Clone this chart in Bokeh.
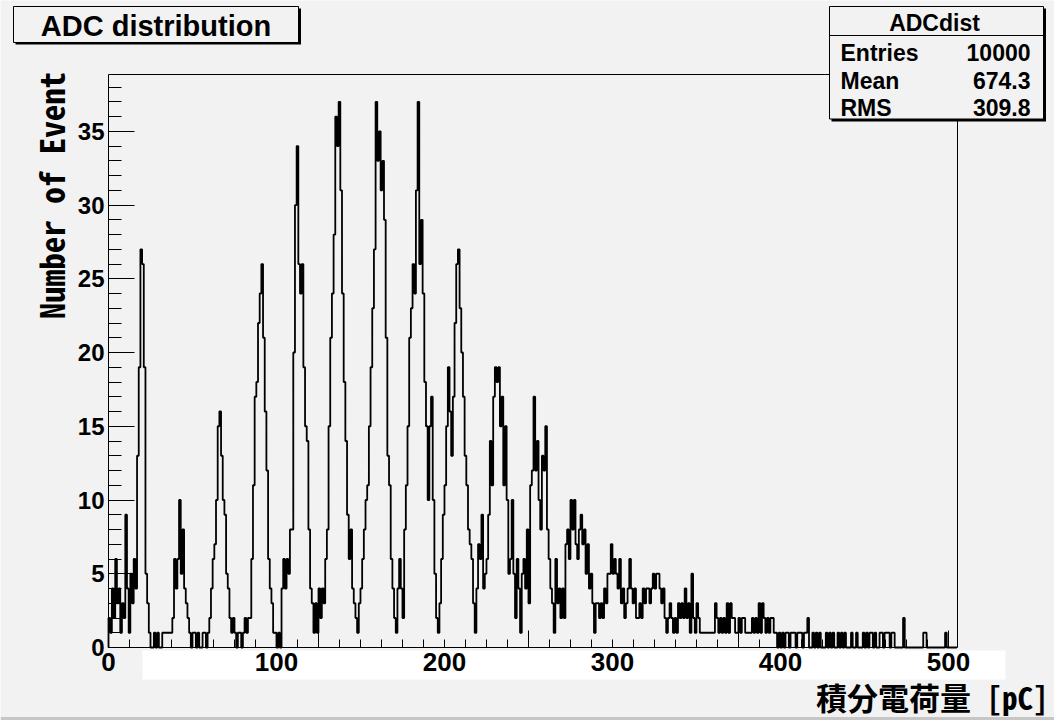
import math
from bokeh.plotting import figure
from bokeh.models import LinearAxis, FixedTicker, Range1d, BoxAnnotation, Label
from bokeh.embed import file_html
from bokeh.resources import INLINE

# ---------------- data ----------------
# Histogram counts per 1 pC bin, bins start at 0 pC
BIN_WIDTH_PC = 1.0
COUNTS = [
    2, 1, 4, 2, 6, 3, 4, 1, 3, 2,        # 0
    9, 4, 1, 5, 3, 6, 4, 13, 19, 27,     # 10
    26, 19, 5, 3, 1, 0, 0, 1, 0, 1,      # 20
    0, 0, 1, 1, 1, 1, 1, 1, 2, 6,        # 30
    4, 6, 10, 5, 8, 4, 3, 2, 1, 0,       # 40
    1, 1, 0, 1, 0, 0, 1, 1, 0, 1,        # 50
    2, 4, 6, 7, 10, 15, 16, 13, 10, 9,   # 60
    5, 4, 2, 1, 2, 1, 0, 1, 1, 0,        # 70
    1, 2, 1, 2, 2, 6, 11, 17, 18, 22,    # 80
    24, 26, 21, 16, 12, 6, 4, 3, 1, 1,   # 90
    0, 1, 0, 4, 6, 4, 6, 5, 8, 8,        # 100
    20, 30, 34, 26, 24, 26, 19, 15, 14, 8,   # 110
    4, 3, 1, 3, 1, 4, 2, 4, 3, 6,        # 120
    8, 15, 21, 24, 28, 36, 34, 37, 31, 24,   # 130
    18, 14, 9, 6, 8, 4, 3, 2, 1, 3,      # 140
    4, 6, 8, 10, 11, 15, 19, 23, 27, 37,     # 150
    33, 35, 31, 33, 29, 21, 13, 11, 6, 4,    # 160
    2, 1, 4, 6, 4, 2, 8, 11, 15, 21,     # 170
    23, 26, 24, 31, 37, 26, 29, 24, 18, 15,  # 180
    10, 15, 17, 10, 5, 2, 1, 3, 6, 9,    # 190
    11, 15, 19, 16, 13, 17, 22, 26, 27, 23,  # 200
    20, 17, 13, 11, 8, 7, 6, 3, 1, 4,    # 210
    7, 6, 9, 4, 5, 6, 9, 14, 11, 17,     # 220
    19, 18, 19, 15, 17, 11, 15, 10, 5, 6,    # 230
    10, 5, 2, 6, 4, 1, 5, 6, 4, 8,       # 240
    3, 11, 12, 17, 12, 14, 10, 8, 13, 12,    # 250
    15, 8, 6, 4, 3, 1, 6, 3, 4, 2,       # 260
    4, 2, 7, 8, 6, 10, 8, 10, 7, 6,      # 270
    8, 9, 7, 8, 5, 7, 4, 5, 3, 1,        # 280
    3, 3, 2, 3, 2, 4, 3, 5, 5, 7,        # 290
    5, 6, 5, 4, 6, 3, 4, 2, 3, 4,        # 300
    6, 4, 3, 4, 2, 2, 3, 2, 4, 3,        # 310
    4, 4, 3, 4, 5, 4, 5, 5, 4, 3,        # 320
    4, 2, 1, 2, 3, 2, 1, 2, 1, 3,        # 330
    2, 3, 2, 4, 2, 3, 1, 5, 2, 1,        # 340
    3, 2, 1, 1, 1, 1, 1, 1, 1, 1,        # 350
    1, 3, 2, 1, 2, 1, 2, 1, 3, 1,        # 360
    3, 2, 2, 1, 1, 2, 1, 2, 2, 1,        # 370
    1, 1, 1, 2, 1, 2, 1, 3, 1, 3,        # 380
    2, 1, 2, 1, 2, 2, 1, 1, 0, 1,        # 390
    0, 1, 0, 1, 1, 0, 1, 1, 1, 0,        # 400
    1, 1, 1, 0, 1, 1, 2, 0, 0, 1,        # 410
    0, 1, 0, 1, 0, 0, 0, 1, 0, 1,        # 420
    0, 1, 0, 0, 1, 0, 1, 0, 1, 0,        # 430
    0, 0, 1, 0, 0, 1, 0, 0, 0, 1,        # 440
    0, 1, 0, 1, 1, 0, 1, 0, 0, 1,        # 450
    1, 0, 1, 1, 1, 0, 1, 1, 0, 0,        # 460
    0, 0, 0, 2, 0, 0, 0, 0, 0, 0,        # 470
    0, 0, 0, 0, 0, 1, 1, 0, 0, 0,        # 480
    0, 0, 0, 0, 0, 0, 0, 0, 1, 0,        # 490
    0, 0, 0, 0, 0,                       # 500
]

X_LABEL_POS = [0, 100, 200, 300, 400, 500]
X_LABELS = ["0", "100", "200", "300", "400", "500"]
ADC_MAJOR_PC = [0, 125, 250, 375, 500]            # original ADC axis ticks (500 ADC steps)
ADC_MINOR_PC = [12.5 * k for k in range(41)]      # 50 ADC steps
Y_TICKS = [0, 5, 10, 15, 20, 25, 30, 35]
Y_MINOR = list(range(0, 39))

TITLE = "ADC distribution"
STATS_NAME = "ADCdist"
STATS_KEYS = ["Entries", "Mean", "RMS"]
STATS_VALS = ["10000", "674.3", "309.8"]
X_TITLE = "積分電荷量 [pC]"
Y_TITLE = "Number of Event"

# ---------------- layout ----------------
W, H = 1054, 720
FL, FR, FT, FB = 108, 957, 74, 647      # ROOT frame in canvas pixels
XMAX = 505.4
YMAX = 38.85
BG = "#f2f2f2"
SANS = "Liberation Sans"
CJK = "Noto Sans Mono CJK JP, Noto Sans CJK JP, monospace"


def X(px):
    return (px - FL) / (FR - FL) * XMAX


def Y(py):
    return (FB - py) / (FB - FT) * YMAX


# the Bokeh frame spans the whole canvas; the ROOT frame is drawn with fixed-location axes
p = figure(width=W, height=H, x_range=Range1d(X(0), X(W)), y_range=Range1d(Y(H), Y(0)),
           x_axis_type=None, y_axis_type=None, toolbar_location=None,
           output_backend="svg",
           min_border_left=0, min_border_right=0, min_border_top=0, min_border_bottom=0,
           background_fill_color=BG, border_fill_color=BG,
           outline_line_color=None)
p.title.visible = False

# white band behind the relabelled x axis, bottom window edge
p.add_layout(BoxAnnotation(left=X(142), right=X(1005), top=Y(650), bottom=Y(679),
                           fill_color="white", fill_alpha=1, line_alpha=0, level="underlay"))
p.add_layout(BoxAnnotation(left=X(0), right=X(W), top=Y(716.5), bottom=Y(H),
                           fill_color="#c6c6c6", fill_alpha=1, line_alpha=0, level="underlay"))

# histogram outline
xs = [0.0] + [i * BIN_WIDTH_PC for i in range(len(COUNTS) + 1)]
ys = [0] + COUNTS + [0]
p.step(x=xs, y=ys, mode="after", line_color="black", line_width=1.8)

# y axis
yaxis = LinearAxis(fixed_location=0, bounds=(0, YMAX),
                   ticker=FixedTicker(ticks=Y_TICKS, minor_ticks=Y_MINOR),
                   axis_line_color="black", major_tick_line_color="black",
                   minor_tick_line_color="black",
                   major_tick_in=26, major_tick_out=0, minor_tick_in=13, minor_tick_out=0,
                   major_label_text_font=SANS, major_label_text_font_style="bold",
                   major_label_text_font_size="24px", major_label_text_color="black",
                   major_label_standoff=4)
p.add_layout(yaxis, "left")

# x axis: original ADC tick marks
xt = LinearAxis(fixed_location=0, bounds=(0, XMAX),
                ticker=FixedTicker(ticks=ADC_MAJOR_PC, minor_ticks=ADC_MINOR_PC),
                axis_line_color="black", major_tick_line_color="black",
                minor_tick_line_color="black",
                major_tick_in=17, major_tick_out=0, minor_tick_in=8, minor_tick_out=0,
                major_label_text_font_size="0px", major_label_standoff=0,
                major_label_overrides={t: "" for t in ADC_MAJOR_PC})
p.add_layout(xt, "below")

# x axis: pC labels
xl = LinearAxis(fixed_location=0, bounds=(0, XMAX),
                ticker=FixedTicker(ticks=X_LABEL_POS, minor_ticks=[]),
                axis_line_color=None, major_tick_line_color=None, minor_tick_line_color=None,
                major_tick_in=0, major_tick_out=0, minor_tick_in=0, minor_tick_out=0,
                major_label_text_font=SANS, major_label_text_font_style="bold",
                major_label_text_font_size="26px", major_label_text_color="black",
                major_label_standoff=5,
                major_label_overrides={v: s for v, s in zip(X_LABEL_POS, X_LABELS)})
p.add_layout(xl, "below")

# frame top / right lines
top_ax = LinearAxis(fixed_location=YMAX, bounds=(0, XMAX),
                    ticker=FixedTicker(ticks=[], minor_ticks=[]), axis_line_color="black",
                    major_tick_in=0, major_tick_out=0, minor_tick_in=0, minor_tick_out=0,
                    major_label_text_font_size="0px", major_label_standoff=0)
p.add_layout(top_ax, "above")
right_ax = LinearAxis(fixed_location=XMAX, bounds=(0, YMAX),
                      ticker=FixedTicker(ticks=[], minor_ticks=[]), axis_line_color="black",
                      major_tick_in=0, major_tick_out=0, minor_tick_in=0, minor_tick_out=0,
                      major_label_text_font_size="0px", major_label_standoff=0)
p.add_layout(right_ax, "right")


def box(l, t, r, b, fill, line=None):
    return BoxAnnotation(left=X(l), right=X(r), top=Y(t), bottom=Y(b),
                         fill_color=fill, fill_alpha=1,
                         line_color=line if line else fill, line_alpha=1 if line else 0,
                         line_width=1)


# title box with shadow
p.add_layout(box(15, 8, 300.5, 44, "black"))
p.add_layout(box(13, 6, 298, 42, BG, "black"))
p.add_layout(Label(x=X(155.5), y=Y(25), text=TITLE, text_align="center", text_baseline="middle",
                   text_font=SANS, text_font_style="bold", text_font_size="29px",
                   text_color="black"))

# stats box with shadow
p.add_layout(box(831, 8, 1045.5, 121, "black"))
p.add_layout(box(829, 6, 1043, 118.5, BG, "black"))
p.add_layout(box(829, 34.5, 1043, 35.5, "black"))
p.add_layout(Label(x=X(934), y=Y(22), text=STATS_NAME, text_align="center",
                   text_baseline="middle", text_font=SANS, text_font_style="bold",
                   text_font_size="23px", text_color="black"))
row_y = [52, 80, 107]
for k, v, ry in zip(STATS_KEYS, STATS_VALS, row_y):
    p.add_layout(Label(x=X(840), y=Y(ry), text=k, text_align="left", text_baseline="middle",
                       text_font=SANS, text_font_style="bold", text_font_size="23px",
                       text_color="black"))
    p.add_layout(Label(x=X(1030), y=Y(ry), text=v, text_align="right", text_baseline="middle",
                       text_font=SANS, text_font_style="bold", text_font_size="23px",
                       text_color="black"))

# axis titles
p.add_layout(Label(x=X(1048), y=Y(696), text=X_TITLE, text_align="right",
                   text_baseline="middle", text_font=CJK, text_font_style="bold",
                   text_font_size="31px", text_color="black"))
p.add_layout(Label(x=X(50), y=Y(195), text=Y_TITLE, text_align="center",
                   text_baseline="middle", angle=math.pi / 2, angle_units="rad",
                   text_font=CJK, text_font_style="bold", text_font_size="33px",
                   text_color="black"))

open("out.html", "w").write(file_html(p, INLINE))
